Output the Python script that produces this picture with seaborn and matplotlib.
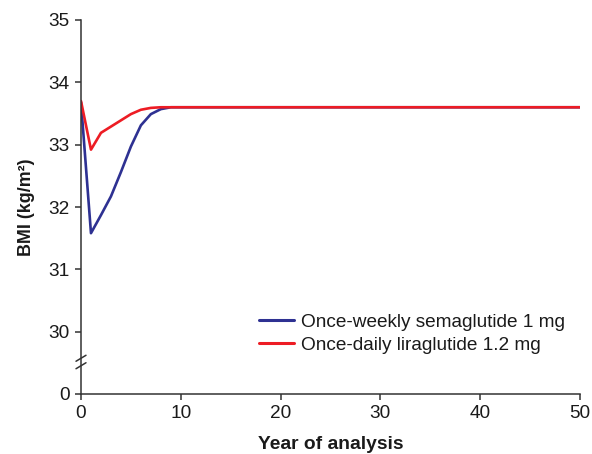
import numpy as np
import pandas as pd
import seaborn as sns
import matplotlib
matplotlib.use("Agg")
import matplotlib.pyplot as plt

years = [0, 1, 2, 3, 4, 5, 6, 7, 8, 9, 10, 50]
sema = [33.68, 31.58, 31.87, 32.17, 32.56, 32.97, 33.31, 33.49, 33.57, 33.60, 33.60, 33.60]
lira = [33.70, 32.92, 33.19, 33.29, 33.39, 33.49, 33.56, 33.59, 33.60, 33.60, 33.60, 33.60]
series_names = ["Once-weekly semaglutide 1 mg", "Once-daily liraglutide 1.2 mg"]
colors = ["#2E3192", "#ED1C24"]
y_ticks = [0, 30, 31, 32, 33, 34, 35]
x_ticks = [0, 10, 20, 30, 40, 50]

df = pd.DataFrame({
    "Year": years * 2,
    "BMI": sema + lira,
    "Treatment": [series_names[0]] * len(years) + [series_names[1]] * len(years),
})

sns.set_style("ticks")
plt.rcParams["font.family"] = ["Liberation Sans", "DejaVu Sans"]
plt.rcParams["text.color"] = "#1a1a1a"
plt.rcParams["xtick.labelcolor"] = "#1a1a1a"
plt.rcParams["ytick.labelcolor"] = "#1a1a1a"
plt.rcParams["axes.labelcolor"] = "#1a1a1a"

fig = plt.figure(figsize=(5.92, 4.54), dpi=100)
ax = fig.add_axes([81 / 592, 1 - 394 / 454, (580 - 81) / 592, (394 - 20) / 454])

BRK = 29.5
def fwd(y):
    y = np.asarray(y, dtype=float)
    return np.where(y >= BRK, y, 29 + y * (0.5 / BRK))
def inv(x):
    x = np.asarray(x, dtype=float)
    return np.where(x >= BRK, x, (x - 29) * (BRK / 0.5))
ax.set_yscale("function", functions=(fwd, inv))

sns.lineplot(data=df, x="Year", y="BMI", hue="Treatment", palette=colors,
             linewidth=1.9, ax=ax)

ax.set_xlim(0, 50)
ax.set_ylim(0, 35)
ax.set_xticks(x_ticks)
ax.set_yticks(y_ticks)
ax.set_yticklabels([str(t) for t in y_ticks])
ax.minorticks_off()
ax.tick_params(labelsize=13.7, length=4, width=1.1, color="#333333", pad=4)
for s in ["top", "right"]:
    ax.spines[s].set_visible(False)
for s in ["left", "bottom"]:
    ax.spines[s].set_linewidth(1.1)
    ax.spines[s].set_color("#333333")

ax.set_xlabel("Year of analysis", fontsize=13.9, fontweight="bold", labelpad=10)
ax.set_ylabel("BMI (kg/m²)", fontsize=12.9, fontweight="bold", labelpad=10)

# axis break marks
yb = (394 - 362) / 374
for off in (-0.010, 0.010):
    ax.plot([-0.010, 0.010], [yb + off - 0.008, yb + off + 0.008],
            transform=ax.transAxes, color="#333333", lw=1.1, clip_on=False)

leg = ax.legend(loc="lower right", bbox_to_anchor=((565 - 81) / 499, (394 - 354) / 374),
                frameon=False, fontsize=13.7, handlelength=1.84, labelspacing=0.32,
                handletextpad=0.35, borderpad=0, borderaxespad=0)
for line in leg.get_lines():
    line.set_linewidth(2.2)

fig.savefig("out.png", dpi=100)
